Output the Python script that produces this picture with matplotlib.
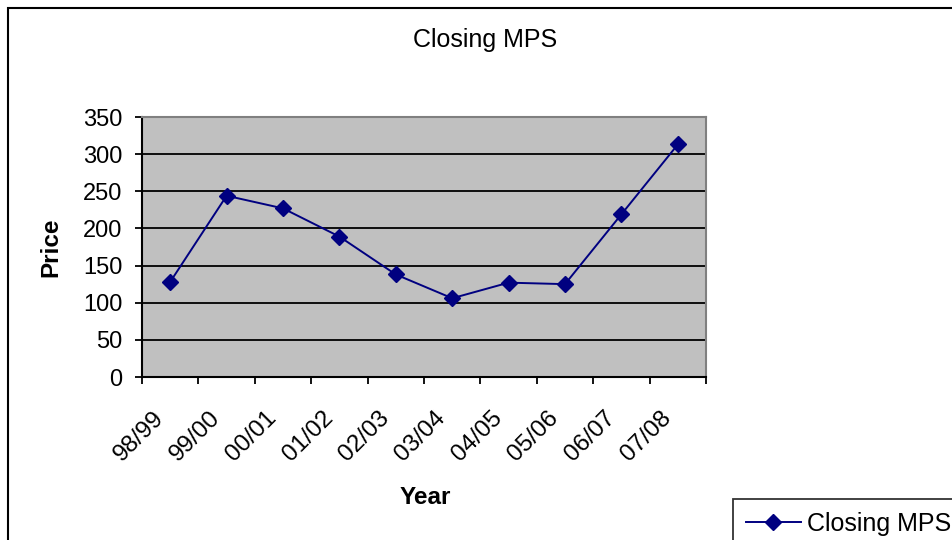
import matplotlib
matplotlib.use("Agg")
import matplotlib.pyplot as plt
from matplotlib.patches import Rectangle
from matplotlib.transforms import ScaledTranslation

plt.rcParams['font.family'] = ['Liberation Sans', 'DejaVu Sans']

years = ["98/99", "99/00", "00/01", "01/02", "02/03",
         "03/04", "04/05", "05/06", "06/07", "07/08"]
closing_mps = [128, 244, 227, 189, 138, 106, 127, 125, 219, 313]
y_ticks = [0, 50, 100, 150, 200, 250, 300, 350]

W, H = 952, 540
fig = plt.figure(figsize=(W / 100, H / 100), dpi=100)
fig.patch.set_facecolor("white")

# outer chart frame (runs past the right and bottom edges)
fig.add_artist(Rectangle((8 / W, -0.5), 2.0, (1 - 8 / H) + 0.5,
                         transform=fig.transFigure, fill=False,
                         edgecolor="black", linewidth=1.5))

left, right, top, bottom = 142, 706, 117, 377
ax = fig.add_axes([left / W, 1 - bottom / H, (right - left) / W, (bottom - top) / H])
ax.set_facecolor("#C0C0C0")

x = list(range(len(years)))
ax.plot(x, closing_mps, color="#000080", linewidth=1.4, marker="D",
        markersize=8, markerfacecolor="#000080", markeredgecolor="#000080",
        label="Closing MPS", zorder=3)

ax.set_xlim(-0.5, len(years) - 0.5)
ax.set_ylim(0, 350)

ax.set_yticks(y_ticks)
ax.yaxis.grid(True, color="black", linewidth=1.3)
ax.set_axisbelow(True)

# tick marks sit between categories, labels at category centres
ax.set_xticks([i - 0.5 for i in range(len(years) + 1)])
ax.set_xticklabels([])
ax.set_xticks(x, minor=True)
ax.set_xticklabels(years, minor=True, rotation=45, ha="right", va="center",
                   rotation_mode="anchor", fontsize=17.5)
ax.tick_params(axis="x", which="minor", length=0, pad=27)
ax.tick_params(axis="x", which="major", length=5, width=1.3, direction="out")
ax.tick_params(axis="y", length=5, width=1.3, direction="out", pad=9, labelsize=17)
for lbl in ax.get_xticklabels(minor=True):
    lbl.set_transform(lbl.get_transform() + ScaledTranslation(-10 / 100, 0, fig.dpi_scale_trans))

for side in ("left", "bottom"):
    ax.spines[side].set_color("black")
    ax.spines[side].set_linewidth(1.5)
for side in ("top", "right"):
    ax.spines[side].set_color("#808080")
    ax.spines[side].set_linewidth(1.5)

fig.text(485 / W, 1 - 40 / H, "Closing MPS", fontsize=18, ha="center", va="center")
fig.text(51 / W, 1 - 247 / H, "Price", fontsize=17.5, fontweight="bold",
         rotation=90, ha="center", va="center")
fig.text(425 / W, 1 - 497 / H, "Year", fontsize=17.5, fontweight="bold",
         ha="center", va="center")

leg = fig.legend(loc="upper left", bbox_to_anchor=(733 / W, 1 - 499 / H),
                 bbox_transform=fig.transFigure, fontsize=18, frameon=True,
                 fancybox=False, borderaxespad=0, borderpad=0.5,
                 handlelength=2.2, handletextpad=0.25)
leg.get_frame().set_edgecolor("black")
leg.get_frame().set_linewidth(1.3)

fig.savefig("out.png", dpi=100)
